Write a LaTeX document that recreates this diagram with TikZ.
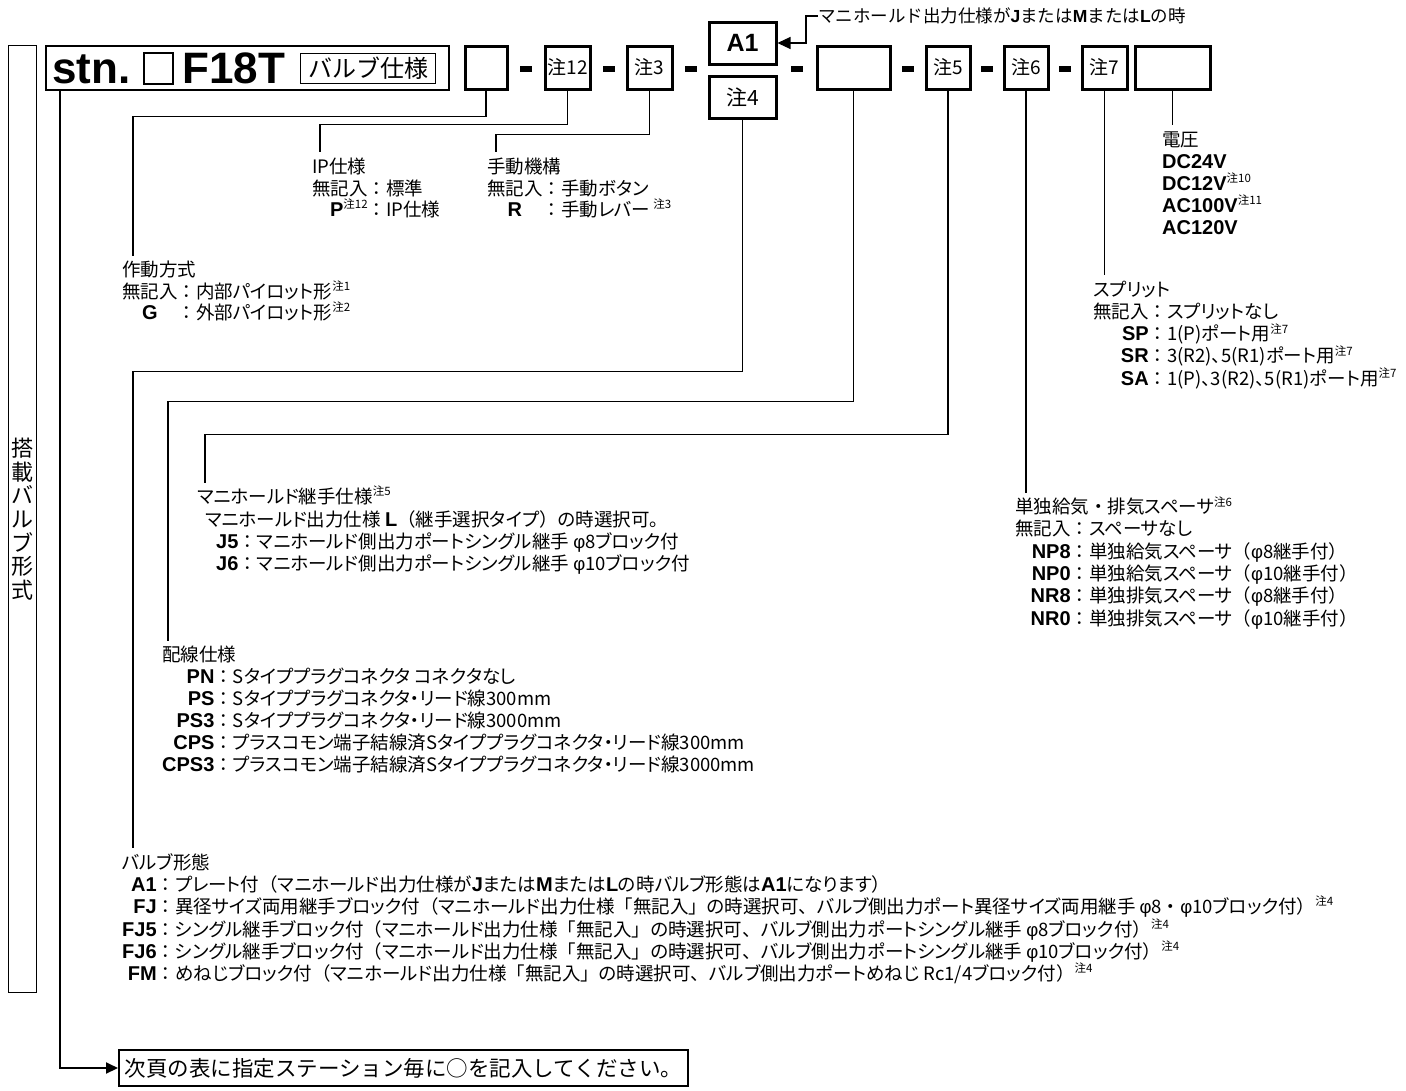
\documentclass[tikz,border=0pt]{standalone}
\usepackage{fontspec}
\setmainfont{Noto Sans CJK JP}
\newfontfamily\jp[RawFeature=+palt]{Noto Sans CJK JP}
\newfontfamily\fwjp{Noto Sans CJK JP}
\newfontfamily\lat{Liberation Sans}
\usetikzlibrary{arrows.meta,positioning}

% code letters in bold sans, note marks raised and small
\newcommand\code[1]{{\lat\bfseries\fontsize{20}{20}\selectfont #1}}
\newcommand\chu[1]{\raisebox{.42em}[0pt][0pt]{\fontsize{11.5}{11.5}\selectfont 注#1}}
\newcommand\phis{{\lat φ}}
\newcommand\fw[1]{{\fwjp #1}}

\tikzset{
  codebox/.style={draw,line width=3pt,minimum height=43pt,inner sep=0pt,
    font=\fontsize{19}{19}\selectfont},
  bar/.style={fill,minimum width=12pt,minimum height=6pt,inner sep=0pt},
  lead/.style={line width=1.2pt},
  spec/.style={anchor=north west,inner sep=0pt,
    font=\jp\fontsize{18.5}{21.6}\selectfont},
  spectop/.style={spec,font=\jp\fontsize{18.5}{19.5}\selectfont},
}

\begin{document}
\begin{tikzpicture}[x=1pt,y=-1pt]
\useasboundingbox (0,0) rectangle (1406,1090);

% side label
\node[draw,line width=1.2pt,anchor=north west,minimum width=28pt,minimum height=947pt,
  inner sep=0pt,align=center,font=\fontsize{22}{23.7}\selectfont] (side) at (8,45)
  {搭\\載\\バ\\ル\\ブ\\形\\式};

% model code
\node[draw,line width=1.5pt,anchor=north west,minimum width=403pt,minimum height=44pt,
  inner sep=0pt] (stn) at (45,45) {};
\node[anchor=base west,inner sep=0pt,font=\lat\bfseries\fontsize{44}{44}\selectfont]
  (stntxt) at (52,83) {stn.};
\node[draw,line width=1.5pt,anchor=north west,minimum width=29pt,minimum height=31pt,
  inner sep=0pt] (stnq) at (143,52) {};
\node[anchor=base west,inner sep=0pt,font=\lat\bfseries\fontsize{44}{44}\selectfont]
  (f18t) at (182,83) {F18T};
\node[draw,line width=1.3pt,anchor=north west,minimum width=135pt,minimum height=30pt,
  inner sep=0pt,font=\fontsize{24}{24}\selectfont] (vspec) at (300,53) {バルブ仕様};

\node[codebox,minimum width=42pt] (b1) at (486,67.5) {};
\node[bar] (d1) at (526,69) {};
\node[codebox,minimum width=45pt] (b2) at (567.5,67.5) {注12};
\node[bar] (d2) at (608.5,69) {};
\node[codebox,minimum width=45pt] (b3) at (649.5,67.5) {注3};
\node[bar] (d3) at (690.5,69) {};
\node[codebox,minimum width=67pt,minimum height=42pt,
  font=\lat\bfseries\fontsize{25}{25}\selectfont] (a1) at (742.5,43) {A1};
\node[codebox,minimum width=67pt,minimum height=42pt,
  font=\fontsize{21}{21}\selectfont] (n4) at (742.5,97) {注4};
\node[bar] (d4) at (796.5,69) {};
\node[codebox,minimum width=73pt] (b5) at (853.5,67.5) {};
\node[bar] (d5) at (908,69) {};
\node[codebox,minimum width=44pt] (b6) at (948,67.5) {注5};
\node[bar] (d6) at (987,69) {};
\node[codebox,minimum width=44pt] (b7) at (1026,67.5) {注6};
\node[bar] (d7) at (1065,69) {};
\node[codebox,minimum width=45pt] (b8) at (1104.5,67.5) {注7};
\node[codebox,minimum width=75pt] (b9) at (1172.5,67.5) {};

\node[anchor=west,inner sep=0pt,font=\fontsize{17.5}{17.5}\selectfont] (mnote) at (818,16)
  {マニホールド出力仕様が{\lat\bfseries J}または{\lat\bfseries M}または{\lat\bfseries L}の時};
\draw[lead,-{Triangle[length=13pt,width=12pt]}] (mnote.west) -- ++(-12,0) |- (a1.east);

% option lists
\node[spectop] (drv) at (122,261) {\begin{tabular}{@{}c@{\fw{：}}l@{}}
  \multicolumn{2}{@{}l@{}}{作動方式}\\
  無記入&内部パイロット形\chu{1}\\
  \code{G}&外部パイロット形\chu{2}
  \end{tabular}};
\node[spectop] (ip) at (312,158) {\begin{tabular}{@{}r@{\fw{：}}l@{}}
  \multicolumn{2}{@{}l@{}}{IP仕様}\\
  無記入\hspace{4pt}&標準\\
  \code{P}\chu{12}\hspace{4pt}&IP仕様
  \end{tabular}};
\node[spectop] (man) at (487,158) {\begin{tabular}{@{}c@{\fw{：}}l@{}}
  \multicolumn{2}{@{}l@{}}{手動機構}\\
  無記入&手動ボタン\\
  \code{R}&手動レバー\,\chu{3}
  \end{tabular}};
\node[spec,font=\jp\fontsize{18.5}{22}\selectfont] (volt) at (1162,131)
  {\begin{tabular}{@{}l@{}}
  電圧\\
  \code{DC24V}\\
  \code{DC12V}\chu{10}\\
  \code{AC100V}\chu{11}\\
  \code{AC120V}
  \end{tabular}};
\node[spec] (split) at (1093,281) {\begin{tabular}{@{}r@{\fw{：}}l@{}}
  \multicolumn{2}{@{}l@{}}{スプリット}\\
  無記入&スプリットなし\\
  \code{SP}&1(P)ポート用\chu{7}\\
  \code{SR}&3(R2)、5(R1)ポート用\chu{7}\\
  \code{SA}&1(P)、3(R2)、5(R1)ポート用\chu{7}
  \end{tabular}};
\node[spec] (spacer) at (1015,498) {\begin{tabular}{@{}r@{\fw{：}}l@{}}
  \multicolumn{2}{@{}l@{}}{単独給気\fw{・}排気スペーサ\chu{6}}\\
  無記入&スペーサなし\\
  \code{NP8}&単独給気スペーサ\fw{（}\phis 8継手付\fw{）}\\
  \code{NP0}&単独給気スペーサ\fw{（}\phis 10継手付\fw{）}\\
  \code{NR8}&単独排気スペーサ\fw{（}\phis 8継手付\fw{）}\\
  \code{NR0}&単独排気スペーサ\fw{（}\phis 10継手付\fw{）}
  \end{tabular}};
\node[spec] (joint) at (197,488) {\begin{tabular}{@{}l@{\fw{：}}l@{}}
  \multicolumn{2}{@{}l@{}}{マニホールド継手仕様\chu{5}}\\
  \multicolumn{2}{@{}l@{}}{\hspace*{8pt}マニホールド出力仕様 \code{L}\fw{（}継手選択タイプ\fw{）}の時選択可。}\\
  \hspace*{19pt}\code{J5}&マニホールド側出力ポートシングル継手 \phis 8ブロック付\\
  \hspace*{19pt}\code{J6}&マニホールド側出力ポートシングル継手 \phis 10ブロック付
  \end{tabular}};
\node[spec] (wire) at (162,646) {\begin{tabular}{@{}r@{\fw{：}}l@{}}
  \multicolumn{2}{@{}l@{}}{配線仕様}\\
  \code{PN}&Sタイププラグコネクタ コネクタなし\\
  \code{PS}&Sタイププラグコネクタ・リード線300mm\\
  \code{PS3}&Sタイププラグコネクタ・リード線3000mm\\
  \code{CPS}&プラスコモン端子結線済Sタイププラグコネクタ・リード線300mm\\
  \code{CPS3}&プラスコモン端子結線済Sタイププラグコネクタ・リード線3000mm
  \end{tabular}};
\node[spec] (form) at (122,853) {\begin{tabular}{@{}r@{\fw{：}}l@{}}
  \multicolumn{2}{@{}l@{}}{バルブ形態}\\
  \code{A1}&プレート付\fw{（}マニホールド出力仕様が\code{J}または\code{M}または\code{L}の時バルブ形態は\code{A1}になります\fw{）}\\
  \code{FJ}&異径サイズ両用継手ブロック付\fw{（}マニホールド出力仕様\fw{「}無記入\fw{」}の時選択可\fw{、}バルブ側出力ポート異径サイズ両用継手 \phis 8\fw{・}\phis 10ブロック付\fw{）}\chu{4}\\
  \code{FJ5}&シングル継手ブロック付\fw{（}マニホールド出力仕様\fw{「}無記入\fw{」}の時選択可\fw{、}バルブ側出力ポートシングル継手 \phis 8ブロック付\fw{）}\chu{4}\\
  \code{FJ6}&シングル継手ブロック付\fw{（}マニホールド出力仕様\fw{「}無記入\fw{」}の時選択可\fw{、}バルブ側出力ポートシングル継手 \phis 10ブロック付\fw{）}\chu{4}\\
  \code{FM}&めねじブロック付\fw{（}マニホールド出力仕様\fw{「}無記入\fw{」}の時選択可\fw{、}バルブ側出力ポートめねじ Rc1/4ブロック付\fw{）}\chu{4}
  \end{tabular}};

\node[draw,line width=1.5pt,anchor=west,minimum height=36pt,inner xsep=6pt,
  font=\fontsize{21.5}{21.5}\selectfont] (next) at (118,1068)
  {次頁の表に指定ステーション毎に○を記入してください。};

% leaders
\coordinate (drvtop) at ([xshift=11pt,yshift=5pt]drv.north west);
\coordinate (iptop) at ([xshift=8pt,yshift=6pt]ip.north west);
\coordinate (mantop) at ([xshift=9pt,yshift=6pt]man.north west);
\coordinate (formtop) at ([xshift=11pt,yshift=5pt]form.north west);
\coordinate (wiretop) at ([xshift=6pt,yshift=5pt]wire.north west);
\coordinate (jointtop) at ([xshift=8pt,yshift=5pt]joint.north west);
\coordinate (spacertop) at ([xshift=11pt,yshift=5pt]spacer.north west);
\coordinate (splittop) at ([xshift=12pt,yshift=6pt]split.north west);
\coordinate (volttop) at ([xshift=10pt,yshift=6pt]volt.north west);
\draw[lead] (b1.south) -- ++(0,26) -| (drvtop);
\draw[lead] (b2.south) -- ++(0,34) -| (iptop);
\draw[lead] (b3.south) -- ++(0,44) -| (mantop);
\draw[lead] (n4.south) -- ++(0,252) -| (formtop);
\draw[lead] (b5.south) -- ++(0,311) -| (wiretop);
\draw[lead] (b6.south) -- ++(0,344) -| (jointtop);
\draw[lead] (b7.south) -- (b7.south |- spacertop);
\draw[lead] (b8.south) -- (b8.south |- splittop);
\draw[lead] (b9.south) -- (b9.south |- volttop);
\draw[line width=2pt,-{Triangle[length=12pt,width=11pt]}]
  ([xshift=15pt]stn.south west) |- (next.west);
\end{tikzpicture}
\end{document}
